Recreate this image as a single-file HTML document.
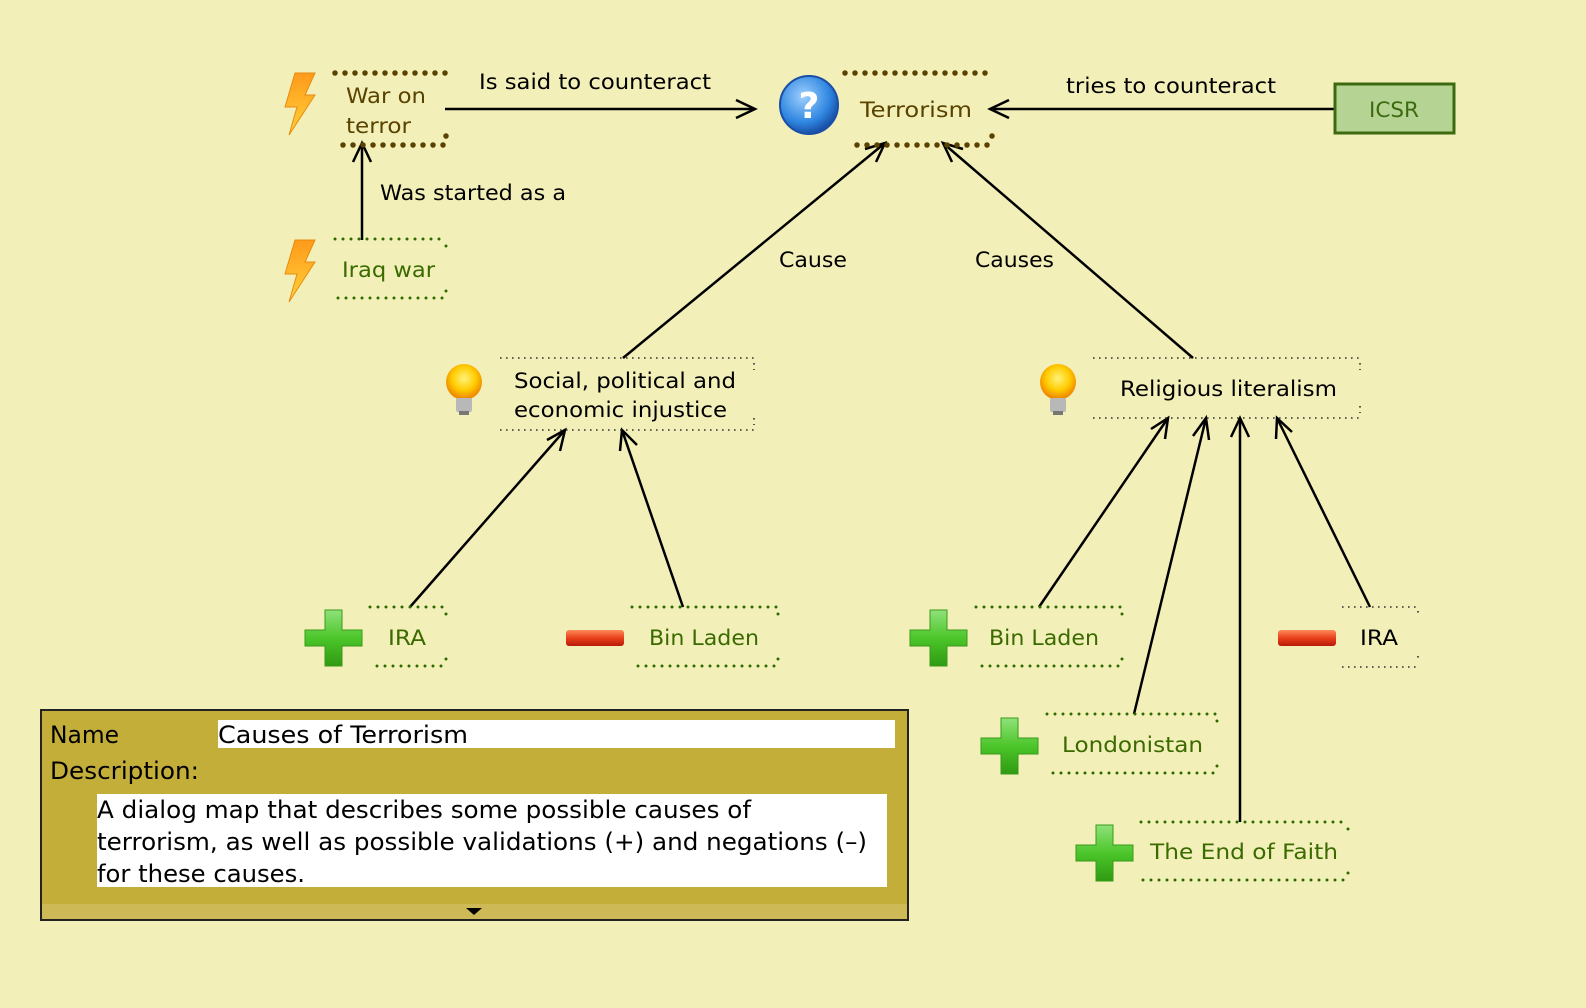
<!DOCTYPE html>
<html><head><meta charset="utf-8"><style>
html,body{margin:0;padding:0;background:#f2f0b8;}
svg{display:block;}
text{font-family:"DejaVu Sans","Liberation Sans",sans-serif;}
</style></head><body>
<svg width="1586" height="1008" viewBox="0 0 1586 1008" xmlns="http://www.w3.org/2000/svg">
<defs>
<radialGradient id="bulb" cx="50%" cy="40%" r="55%"><stop offset="0" stop-color="#fff27a"/><stop offset="0.6" stop-color="#ffcc00"/><stop offset="1" stop-color="#f08a00"/></radialGradient>
<radialGradient id="q" cx="40%" cy="35%" r="65%"><stop offset="0" stop-color="#9fd0ff"/><stop offset="0.7" stop-color="#2f86e0"/><stop offset="1" stop-color="#1a4fa8"/></radialGradient>
<linearGradient id="bolt" x1="0" y1="0" x2="0" y2="1"><stop offset="0" stop-color="#ff9a1a"/><stop offset="1" stop-color="#ffd23a"/></linearGradient>
<linearGradient id="plus" x1="0" y1="0" x2="0" y2="1"><stop offset="0" stop-color="#8fe27a"/><stop offset="0.5" stop-color="#4cc62a"/><stop offset="1" stop-color="#2f9a12"/></linearGradient>
<linearGradient id="minus" x1="0" y1="0" x2="0" y2="1"><stop offset="0" stop-color="#ff8a5a"/><stop offset="0.5" stop-color="#e8401a"/><stop offset="1" stop-color="#b81a08"/></linearGradient>
<g id="boltI"><polygon points="14,0 34,0 24,22 34,22 8,62 16,34 4,34" fill="url(#bolt)" stroke="#e88a10" stroke-width="1"/></g>
<g id="plusI"><path d="M20,0h17v20h20v16h-20v20h-17v-20h-20v-16h20z" fill="url(#plus)" stroke="#3a9a1a" stroke-width="1"/></g>
<g id="minusI"><rect x="0" y="0" width="58" height="16" rx="3" fill="url(#minus)"/></g>
<g id="bulbI"><circle cx="20" cy="20" r="18" fill="url(#bulb)"/><rect x="12" y="36" width="16" height="14" rx="2" fill="#b8b8b8"/><rect x="15" y="49" width="10" height="4" fill="#777"/></g>
</defs>

<g stroke="#000" stroke-width="2.5" fill="none">
<line x1="445" y1="109" x2="755" y2="109"/><polyline points="736,100 755,109 736,118"/>
<line x1="1335" y1="109" x2="990" y2="109"/><polyline points="1009,100 990,109 1009,118"/>
<line x1="362" y1="240" x2="362" y2="143"/><polyline points="353,162 362,143 371,162"/>
<line x1="623" y1="358" x2="885" y2="143"/><polyline points="865,149 885,143 876,162"/>
<line x1="1193" y1="358" x2="943" y2="143"/><polyline points="952,162 943,143 963,149"/>
<line x1="410" y1="607" x2="565" y2="430"/><polyline points="547,440 565,430 560,451"/>
<line x1="683" y1="607" x2="622" y2="430"/><polyline points="620,451 622,430 637,445"/>
<line x1="1039" y1="607" x2="1168" y2="418"/><polyline points="1151,429 1168,418 1165,439"/>
<line x1="1134" y1="714" x2="1206" y2="418"/><polyline points="1193,436 1206,418 1209,440"/>
<line x1="1240" y1="822" x2="1240" y2="418"/><polyline points="1231,437 1240,418 1249,437"/>
<line x1="1370" y1="607" x2="1277" y2="418"/><polyline points="1276,439 1277,418 1292,432"/>
</g>

<g font-size="21" fill="#000" lengthAdjust="spacingAndGlyphs">
<text x="479" y="89" textLength="232" lengthAdjust="spacingAndGlyphs">Is said to counteract</text>
<text x="1066" y="93" textLength="210" lengthAdjust="spacingAndGlyphs">tries to counteract</text>
<text x="380" y="200" textLength="186" lengthAdjust="spacingAndGlyphs">Was started as a</text>
<text x="779" y="267" textLength="68" lengthAdjust="spacingAndGlyphs">Cause</text>
<text x="975" y="267" textLength="79" lengthAdjust="spacingAndGlyphs">Causes</text>
</g>

<g stroke="#5a4200" stroke-width="5.5" stroke-linecap="round" stroke-dasharray="0 10">
<line x1="335" y1="73" x2="446" y2="73"/><line x1="343" y1="145" x2="446" y2="145"/><line x1="446" y1="136" x2="446" y2="136.1"/>
<line x1="845" y1="73" x2="992" y2="73"/><line x1="857" y1="145" x2="992" y2="145"/><line x1="992" y1="136" x2="992" y2="136.1"/>
</g>
<g font-size="21" fill="#5a4200">
<text x="346" y="103" textLength="80" lengthAdjust="spacingAndGlyphs">War on</text><text x="346" y="133" textLength="65" lengthAdjust="spacingAndGlyphs">terror</text>
<text x="860" y="117" textLength="112" lengthAdjust="spacingAndGlyphs">Terrorism</text>
</g>

<g stroke="#2f6a00" stroke-width="3" stroke-linecap="round" stroke-dasharray="0 8">
<line x1="335" y1="239" x2="446" y2="239"/><line x1="338" y1="298" x2="446" y2="298"/><line x1="446" y1="246" x2="446" y2="246.1"/><line x1="446" y1="291" x2="446" y2="291.1"/>
<line x1="370" y1="607" x2="446" y2="607"/><line x1="377" y1="666" x2="446" y2="666"/><line x1="446" y1="614" x2="446" y2="614.1"/><line x1="446" y1="659" x2="446" y2="659.1"/>
<line x1="632" y1="607" x2="778" y2="607"/><line x1="638" y1="666" x2="778" y2="666"/><line x1="778" y1="614" x2="778" y2="614.1"/><line x1="778" y1="659" x2="778" y2="659.1"/>
<line x1="976" y1="607" x2="1122" y2="607"/><line x1="982" y1="666" x2="1122" y2="666"/><line x1="1122" y1="614" x2="1122" y2="614.1"/><line x1="1122" y1="659" x2="1122" y2="659.1"/>
<line x1="1047" y1="714" x2="1217" y2="714"/><line x1="1053" y1="773" x2="1217" y2="773"/><line x1="1217" y1="721" x2="1217" y2="721.1"/><line x1="1217" y1="766" x2="1217" y2="766.1"/>
<line x1="1141" y1="822" x2="1348" y2="822"/><line x1="1143" y1="880" x2="1348" y2="880"/><line x1="1348" y1="829" x2="1348" y2="829.1"/><line x1="1348" y1="873" x2="1348" y2="873.1"/>
</g>
<g font-size="21" fill="#3a6a00">
<text x="342" y="277" textLength="93" lengthAdjust="spacingAndGlyphs">Iraq war</text>
<text x="388" y="645" textLength="38" lengthAdjust="spacingAndGlyphs">IRA</text>
<text x="649" y="645" textLength="110" lengthAdjust="spacingAndGlyphs">Bin Laden</text>
<text x="989" y="645" textLength="110" lengthAdjust="spacingAndGlyphs">Bin Laden</text>
<text x="1062" y="752" textLength="141" lengthAdjust="spacingAndGlyphs">Londonistan</text>
<text x="1150" y="859" textLength="188" lengthAdjust="spacingAndGlyphs">The End of Faith</text>
</g>

<g stroke="#333" stroke-width="1.6" stroke-dasharray="1.6 4.4" fill="none">
<line x1="500" y1="358" x2="754" y2="358"/><line x1="500" y1="430" x2="754" y2="430"/><line x1="754" y1="363" x2="754" y2="370"/><line x1="754" y1="418" x2="754" y2="425"/>
<line x1="1093" y1="358" x2="1360" y2="358"/><line x1="1093" y1="418" x2="1360" y2="418"/><line x1="1360" y1="363" x2="1360" y2="370"/><line x1="1360" y1="406" x2="1360" y2="413"/>
<line x1="1342" y1="607" x2="1418" y2="607"/><line x1="1342" y1="667" x2="1418" y2="667"/><line x1="1418" y1="611" x2="1418" y2="617"/><line x1="1418" y1="656" x2="1418" y2="662"/>
</g>
<g font-size="21" fill="#000">
<text x="514" y="388" textLength="222" lengthAdjust="spacingAndGlyphs">Social, political and</text>
<text x="514" y="417" textLength="213" lengthAdjust="spacingAndGlyphs">economic injustice</text>
<text x="1120" y="396" textLength="217" lengthAdjust="spacingAndGlyphs">Religious literalism</text>
<text x="1360" y="645" textLength="38" lengthAdjust="spacingAndGlyphs">IRA</text>
</g>

<rect x="1335" y="84" width="119" height="49" fill="#b5d494" stroke="#3d6a10" stroke-width="3"/>
<text x="1369" y="117" font-size="21" fill="#3d6a10" textLength="50" lengthAdjust="spacingAndGlyphs">ICSR</text>

<use href="#boltI" x="281" y="73"/>
<use href="#boltI" x="281" y="240"/>
<circle cx="809" cy="105" r="29" fill="url(#q)" stroke="#1a4fa8" stroke-width="2"/>
<text x="809" y="118" font-size="36" font-weight="bold" fill="#fff" text-anchor="middle">?</text>
<use href="#bulbI" x="444" y="362"/>
<use href="#bulbI" x="1038" y="362"/>
<use href="#plusI" x="305" y="610"/>
<use href="#minusI" x="566" y="630"/>
<use href="#plusI" x="910" y="610"/>
<use href="#minusI" x="1278" y="630"/>
<use href="#plusI" x="981" y="718"/>
<use href="#plusI" x="1076" y="825"/>

<rect x="41" y="710" width="867" height="210" fill="#c4ae3a" stroke="#222" stroke-width="2"/>
<rect x="42" y="904" width="865" height="15" fill="#cdb955"/>
<polygon points="466,908 482,908 474,915" fill="#000"/>
<rect x="218" y="720" width="677" height="28" fill="#fff"/>
<rect x="97" y="794" width="790" height="93" fill="#fff"/>
<g font-size="24" fill="#000">
<text x="50" y="743" textLength="69" lengthAdjust="spacingAndGlyphs">Name</text>
<text x="218" y="743" textLength="250" lengthAdjust="spacingAndGlyphs">Causes of Terrorism</text>
<text x="50" y="779" textLength="149" lengthAdjust="spacingAndGlyphs">Description:</text>
<text x="97" y="818" textLength="654" lengthAdjust="spacingAndGlyphs">A dialog map that describes some possible causes of</text>
<text x="97" y="850" textLength="770" lengthAdjust="spacingAndGlyphs">terrorism, as well as possible validations (+) and negations (–)</text>
<text x="97" y="882" textLength="208" lengthAdjust="spacingAndGlyphs">for these causes.</text>
</g>
</svg>
</body></html>
